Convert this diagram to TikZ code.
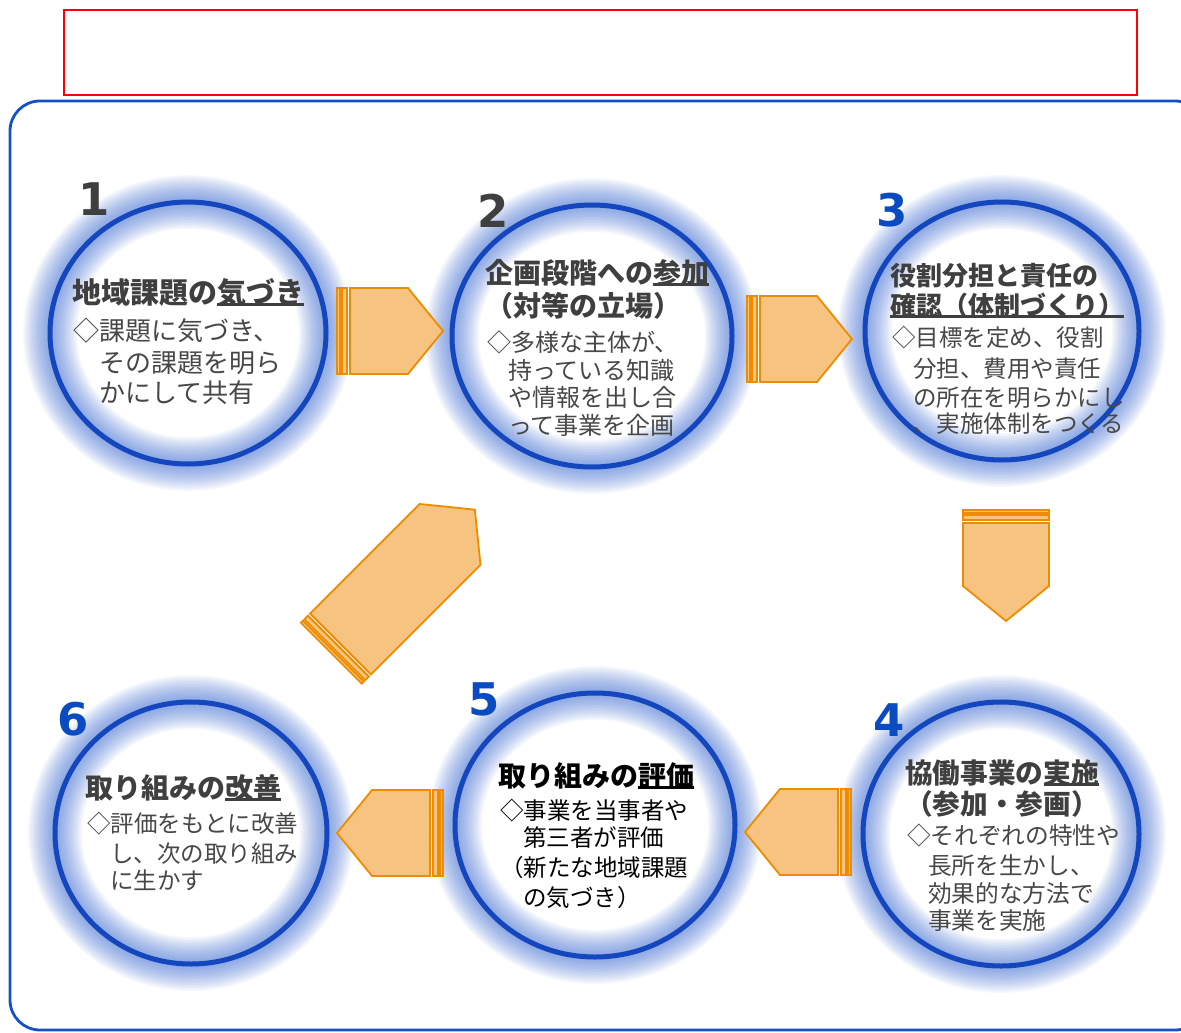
\documentclass[tikz,border=0pt]{standalone}
\usepackage{fontspec}
\newfontfamily\jp{Noto Sans CJK JP}
\newfontfamily\numf{DejaVu Sans}
\usetikzlibrary{shapes.geometric}
\definecolor{tdark}{HTML}{3F3F3F}
\definecolor{tbody}{HTML}{474747}
\definecolor{numblue}{HTML}{0B4BC2}
\definecolor{ringblue}{HTML}{1446BE}
\definecolor{haloblue}{HTML}{2A5CCB}
\definecolor{boxblue}{HTML}{1450C8}
\definecolor{arrfill}{HTML}{F6C380}
\definecolor{arrline}{HTML}{EE8C00}
\newcommand\myul[1]{\setbox0\hbox{#1}\rlap{\rule[-0.1em]{\wd0}{0.085em}}\box0}
\newcommand\jline[6]{\node[jtxt,#1,font={\jp\fontsize{#2}{#2}\selectfont#3}] (#4) at (#5) {#6};}
\newcommand\glow[4]{\foreach \w in {3,6,...,54} \draw[haloblue, line width=\w pt, draw opacity=0.045] (#1,#2) ellipse [x radius=#3pt, y radius=#4pt];}
\newcommand\ringnode[5]{\node[ringst, minimum width={2*#4 pt}, minimum height={2*#5 pt}] (#1) at (#2,#3) {};}
\newcommand\blockarrow[5]{%
  \begin{scope}[shift={(#2,#3)}, rotate=#4]
    \draw[arrst] (0,-43) -- (#5,-43) -- ({#5+35},0) -- (#5,43) -- (0,43) -- cycle;
    \draw[arrst] (-8,-43) rectangle (-3,43);
    \draw[arrst] (-13,-43) rectangle (-10,43);
    \coordinate (#1) at ({#5/2},0);
  \end{scope}}
\tikzset{
  jtxt/.style={anchor=base west, inner sep=0pt, outer sep=0pt},
  ringst/.style={ellipse, draw=ringblue, line width=5pt, inner sep=0pt, outer sep=0pt},
  arrst/.style={fill=arrfill, draw=arrline, line width=1.8pt, line join=miter},
  numst/.style={font=\numf\bfseries\fontsize{45}{45}\selectfont, inner sep=0pt, anchor=center},
}
\begin{document}
\begin{tikzpicture}[x=1pt,y=-1pt]
\useasboundingbox (0,0) rectangle (1181,1033);
\clip (0,0) rectangle (1181,1033);
% frames
\draw[boxblue, line width=2.8pt, rounded corners=30pt] (10,101) rectangle (1205,1030);
\draw[red, line width=2.5pt] (64,10) rectangle (1137,95);
% glows
\glow{188}{333}{138}{131}
\glow{592}{336}{140}{131}
\glow{1002}{331}{137}{129}
\glow{1001}{834}{138}{132}
\glow{595}{825}{140}{132}
\glow{191}{833}{136}{131}
% arrows
\blockarrow{a12}{350}{331}{0}{58}
\blockarrow{a23}{760}{339}{0}{57}
\blockarrow{a34}{1006}{523}{-90}{63}
\blockarrow{a45}{838}{832}{180}{58}
\blockarrow{a56}{430}{833}{180}{58}
\blockarrow{a61}{340.5}{644}{45}{155}
% rings
\ringnode{c1}{188}{333}{138}{131}
\ringnode{c2}{592}{336}{140}{131}
\ringnode{c3}{1002}{331}{137}{129}
\ringnode{c4}{1001}{834}{138}{132}
\ringnode{c5}{595}{825}{140}{132}
\ringnode{c6}{191}{833}{136}{131}
% numbers
\node[numst, text=tdark] (n1) at (94,199) {1};
\node[numst, text=tdark] (n2) at (493,211) {2};
\node[numst, text=numblue] (n3) at (892,210) {3};
\node[numst, text=numblue] (n4) at (889,720) {4};
\node[numst, text=numblue] (n5) at (484,699) {5};
\node[numst, text=numblue] (n6) at (73,719) {6};
% circle 1
\jline{text=tdark}{29}{\bfseries}{t1}{72,303}{地域課題の\myul{気づき}}
\jline{text=tbody}{26}{}{b1a}{73,340}{◇課題に気づき、}
\jline{text=tbody}{26}{}{b1b}{99,372}{その課題を明ら}
\jline{text=tbody}{26}{}{b1c}{99,402}{かにして共有}
% circle 2
\jline{text=tdark}{28}{\bfseries}{t2a}{485,283}{企画段階への\myul{参加}}
\jline{text=tdark}{28}{\bfseries}{t2b}{485,316}{（対等の立場）}
\jline{text=tbody}{24}{}{b2a}{487,351}{◇多様な主体が、}
\jline{text=tbody}{24}{}{b2b}{508,379}{持っている知識}
\jline{text=tbody}{24}{}{b2c}{508,406}{や情報を出し合}
\jline{text=tbody}{24}{}{b2d}{508,434}{って事業を企画}
% circle 3
\jline{text=tdark}{26}{\bfseries}{t3a}{890,285}{役割分担と責任の}
\jline{text=tdark}{26}{\bfseries}{t3b}{890,315}{\myul{確認（体制づくり）}}
\jline{text=tbody}{23.5}{}{b3a}{892,346}{◇目標を定め、役割}
\jline{text=tbody}{23.5}{}{b3b}{913,377}{分担、費用や責任}
\jline{text=tbody}{23.5}{}{b3c}{913,406}{の所在を明らかにし}
\jline{text=tbody}{23.5}{}{b3d}{913,432}{、実施体制をつくる}
% circle 4
\jline{text=tdark}{27.7}{\bfseries}{t4a}{905,783}{協働事業の\myul{実施}}
\jline{text=tdark}{27.7}{\bfseries}{t4b}{905,814}{（参加・参画）}
\jline{text=tbody}{23.7}{}{b4a}{907,844}{◇それぞれの特性や}
\jline{text=tbody}{23.7}{}{b4b}{928,874}{長所を生かし、}
\jline{text=tbody}{23.7}{}{b4c}{928,902}{効果的な方法で}
\jline{text=tbody}{23.7}{}{b4d}{928,929}{事業を実施}
% circle 5
\jline{text=black}{28}{\bfseries}{t5}{498,786}{取り組みの\myul{評価}}
\jline{text=black}{23.5}{}{b5a}{500,819}{◇事業を当事者や}
\jline{text=black}{23.5}{}{b5b}{523,846}{第三者が評価}
\jline{text=black}{23.5}{}{b5c}{500,876}{（新たな地域課題}
\jline{text=black}{23.5}{}{b5d}{523,906}{の気づき）}
% circle 6
\jline{text=tdark}{28}{\bfseries}{t6}{85,798}{取り組みの\myul{改善}}
\jline{text=tbody}{23.5}{}{b6a}{87,832}{◇評価をもとに改善}
\jline{text=tbody}{23.5}{}{b6b}{110,862}{し、次の取り組み}
\jline{text=tbody}{23.5}{}{b6c}{110,889}{に生かす}
\end{tikzpicture}
\end{document}
